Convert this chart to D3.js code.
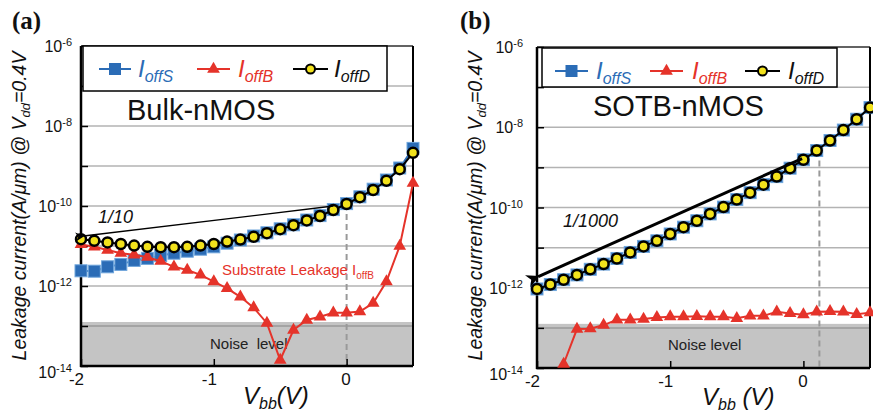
<html>
<head>
<title>leakage</title>
<script src="https://cdn.jsdelivr.net/npm/d3@7"></script>
<style>
  body { margin: 0; background: #fff; }
  svg text { font-family: "Liberation Sans", Arial, sans-serif; }
</style>
</head>
<body>
<svg id="chart" width="873" height="412"></svg>
<script>
// back bias sweep (V)
var vbb = [-2.0, -1.9, -1.8, -1.7, -1.6, -1.5, -1.4, -1.3, -1.2, -1.1, -1.0, -0.9, -0.8,
           -0.7, -0.6, -0.5, -0.4, -0.3, -0.2, -0.1, 0.0, 0.1, 0.2, 0.3, 0.4, 0.5];

// currents stored as log10(A/um)
var bulkS = [-11.62, -11.63, -11.52, -11.46, -11.36, -11.31, -11.24, -11.18, -11.13, -11.08, -11.02, -10.93, -10.85,
             -10.75, -10.67, -10.57, -10.47, -10.35, -10.24, -10.09, -9.94, -9.77, -9.58, -9.35, -9.05, -8.56];
var bulkB = [-10.96, -11.02, -11.10, -11.18, -11.22, -11.28, -11.38, -11.52, -11.60, -11.72, -11.89, -12.06, -12.27,
             -12.54, -12.93, -13.85, -13.10, -12.85, -12.77, -12.67, -12.67, -12.64, -12.43, -11.89, -11.00, -9.43];
var bulkD = [-10.83, -10.87, -10.91, -10.95, -10.99, -11.02, -11.03, -11.03, -11.02, -10.99, -10.95, -10.89, -10.84,
             -10.77, -10.68, -10.58, -10.48, -10.36, -10.25, -10.10, -9.95, -9.78, -9.60, -9.37, -9.08, -8.67];

var sotbS = [-12.03, -11.92, -11.80, -11.68, -11.54, -11.41, -11.27, -11.12, -10.97, -10.83, -10.66, -10.49, -10.33,
             -10.16, -9.99, -9.80, -9.63, -9.43, -9.23, -9.02, -8.81, -8.58, -8.33, -8.07, -7.80, -7.51];
var sotbB = [null, null, -13.90, -13.03, -13.02, -12.93, -12.80, -12.80, -12.78, -12.74, -12.72, -12.72, -12.71,
             -12.72, -12.72, -12.76, -12.70, -12.70, -12.60, -12.64, -12.67, -12.60, -12.59, -12.60, -12.66, -12.62];
var sotbD = [-12.03, -11.92, -11.80, -11.68, -11.54, -11.41, -11.27, -11.12, -10.97, -10.83, -10.66, -10.49, -10.33,
             -10.16, -9.99, -9.80, -9.63, -9.43, -9.23, -9.02, -8.81, -8.58, -8.33, -8.07, -7.80, -7.51];

var yTicks = [1e-14, 1e-13, 1e-12, 1e-11, 1e-10, 1e-9, 1e-8, 1e-7, 1e-6];
var yLabels = [[1e-14, "-14"], [1e-12, "-12"], [1e-10, "-10"], [1e-8, "-8"], [1e-6, "-6"]];
var xTicks = [-2, -1, 0];
var noiseTop = -12.9;

var colS = "#2b6cb6", colB = "#e5332a", colD = "#000";
var svg = d3.select("#chart");

function pts(vals) {
  return vbb.map(function(v, i) { return [v, vals[i]]; });
}

function drawPanel(p) {
  var g = svg.append("g");
  var x = d3.scaleLinear().domain([-2, 0.5]).range([p.left, p.right]);
  var y = d3.scaleLog().domain([1e-14, 1e-6]).range([p.bottom, p.top]);

  // noise band
  g.append("rect")
    .attr("x", p.left).attr("width", p.right - p.left)
    .attr("y", y(Math.pow(10, noiseTop)))
    .attr("height", p.bottom - y(Math.pow(10, noiseTop)))
    .attr("fill", "#c4c4c4");

  g.selectAll(".grid").data(yTicks).enter().append("line")
    .attr("x1", p.left).attr("x2", p.right)
    .attr("y1", function(d) { return y(d); }).attr("y2", function(d) { return y(d); })
    .attr("stroke", function(d) { return d < 1e-12 ? "#9a9a9a" : "#b3b3b3"; })
    .attr("stroke-width", 1.5);

  // dashed marker line
  g.append("line")
    .attr("x1", x(p.dash[0])).attr("x2", x(p.dash[0]))
    .attr("y1", y(Math.pow(10, p.dash[1]))).attr("y2", p.bottom)
    .attr("stroke", "#999").attr("stroke-width", 2).attr("stroke-dasharray", "6,4");

  // axes
  var ya = g.append("g").attr("transform", "translate(" + p.left + ",0)")
    .call(d3.axisLeft(y).tickValues(yTicks).tickSize(-7).tickFormat(""));
  ya.select(".domain").remove();
  ya.selectAll("line").attr("stroke", "#000").attr("stroke-width", 1.5);

  var xa = g.append("g").attr("transform", "translate(0," + p.bottom + ")")
    .call(d3.axisBottom(x).tickValues(xTicks).tickSize(-7).tickPadding(7)
      .tickFormat(function(d) { return String(d); }));
  xa.select(".domain").remove();
  xa.selectAll("line").attr("stroke", "#000").attr("stroke-width", 1.5);
  xa.selectAll("text")
    .attr("font-size", 17)
    .attr("fill", "#111")
    .attr("dx", function(d) { return d < 0 ? -5 : -1; });

  // y tick labels 10^n
  var yl = g.selectAll(".ylab").data(yLabels).enter().append("text")
    .attr("x", p.left - p.labOff)
    .attr("y", function(d) { return y(d[0]) + 6 + (d[0] === 1e-14 ? 6 : 0); })
    .attr("text-anchor", "end").attr("font-size", 16).attr("fill", "#111");
  yl.append("tspan").text("10");
  yl.append("tspan").attr("dy", -6).attr("font-size", 11).text(function(d) { return d[1]; });

  // frame
  g.append("line").attr("x1", p.left).attr("x2", p.right).attr("y1", p.top).attr("y2", p.top)
    .attr("stroke", "#000").attr("stroke-width", 1);
  g.append("line").attr("x1", p.right).attr("x2", p.right).attr("y1", p.top).attr("y2", p.bottom)
    .attr("stroke", "#000").attr("stroke-width", 2);
  g.append("line").attr("x1", p.left).attr("x2", p.left).attr("y1", p.top).attr("y2", p.bottom + 1)
    .attr("stroke", "#000").attr("stroke-width", 2.5);
  g.append("line").attr("x1", p.left - 1).attr("x2", p.right).attr("y1", p.bottom).attr("y2", p.bottom)
    .attr("stroke", "#000").attr("stroke-width", 2.5);

  // annotations
  g.append("text").attr("x", p.noise[0]).attr("y", p.noise[1])
    .attr("font-size", 15).attr("fill", "#222").attr("xml:space", "preserve")
    .text(p.noiseText);

  if (p.subLabel) {
    var st = g.append("text").attr("x", p.subLabel[0]).attr("y", p.subLabel[1])
      .attr("font-size", 15).attr("fill", colB);
    st.append("tspan").text("Substrate Leakage I");
    st.append("tspan").attr("dy", 4).attr("font-size", 10).text("offB");
  }

  g.append("text").attr("x", p.ratio[0]).attr("y", p.ratio[1])
    .attr("font-size", 18).attr("font-style", "italic").attr("fill", "#111").text(p.ratioText);

  // series
  var line = d3.line()
    .defined(function(d) { return d[1] !== null; })
    .x(function(d) { return x(d[0]); })
    .y(function(d) { return y(Math.pow(10, d[1])); });

  var sData = pts(p.s), bData = pts(p.b).filter(function(d) { return d[1] !== null; }), dData = pts(p.d);

  g.append("path").datum(sData).attr("d", line).attr("fill", "none").attr("stroke", colS).attr("stroke-width", 2);
  g.selectAll(".sq").data(sData).enter().append("rect")
    .attr("x", function(d) { return x(d[0]) - 6; })
    .attr("y", function(d) { return y(Math.pow(10, d[1])) - 6; })
    .attr("width", 12).attr("height", 12)
    .attr("fill", colS).attr("stroke", "#6fa6dc").attr("stroke-width", 1);

  g.append("path").datum(bData).attr("d", line).attr("fill", "none").attr("stroke", colB).attr("stroke-width", 2);
  g.selectAll(".tri").data(bData).enter().append("path")
    .attr("transform", function(d) { return "translate(" + x(d[0]) + "," + y(Math.pow(10, d[1])) + ")"; })
    .attr("d", d3.symbol(d3.symbolTriangle, 70))
    .attr("fill", colB);

  g.append("path").datum(dData).attr("d", line).attr("fill", "none").attr("stroke", colD).attr("stroke-width", 2);
  g.selectAll(".cir").data(dData).enter().append("circle")
    .attr("cx", function(d) { return x(d[0]); })
    .attr("cy", function(d) { return y(Math.pow(10, d[1])); })
    .attr("r", 5).attr("fill", "#f2e21c").attr("stroke", "#000").attr("stroke-width", 2.5);

  // slope arrow, on top of the markers
  var defsId = "arr" + p.id;
  svg.append("defs").append("marker").attr("id", defsId)
    .attr("viewBox", "0 0 10 10").attr("refX", 1).attr("refY", 5)
    .attr("markerWidth", p.arrowHead).attr("markerHeight", p.arrowHead)
    .attr("markerUnits", "userSpaceOnUse").attr("orient", "auto-start-reverse")
    .append("path").attr("d", "M0,5 L10,0 L7,5 L10,10 Z").attr("fill", "#000");
  g.append("line")
    .attr("x1", x(p.arrow[0][0])).attr("y1", y(Math.pow(10, p.arrow[0][1])))
    .attr("x2", x(p.arrow[1][0])).attr("y2", y(Math.pow(10, p.arrow[1][1])))
    .attr("stroke", "#000").attr("stroke-width", p.arrowW)
    .attr("marker-end", "url(#" + defsId + ")");

  // legend
  var L = p.legend;
  g.append("rect").attr("x", L.x).attr("y", L.y).attr("width", L.w).attr("height", L.h)
    .attr("fill", "#fff").attr("stroke", "#000").attr("stroke-width", 1.5);
  var items = [["offS", colS, "sq"], ["offB", colB, "tri"], ["offD", colD, "cir"]];
  items.forEach(function(it, i) {
    var pos = L.items[i], cx = (pos[0] + pos[1]) / 2;
    g.append("line").attr("x1", pos[0]).attr("x2", pos[1]).attr("y1", L.cy).attr("y2", L.cy)
      .attr("stroke", it[1]).attr("stroke-width", 2);
    if (it[2] === "sq") {
      g.append("rect").attr("x", cx - 6).attr("y", L.cy - 6).attr("width", 12).attr("height", 12).attr("fill", colS);
    } else if (it[2] === "tri") {
      g.append("path").attr("transform", "translate(" + cx + "," + L.cy + ")")
        .attr("d", d3.symbol(d3.symbolTriangle, 70)).attr("fill", colB);
    } else {
      g.append("circle").attr("cx", cx).attr("cy", L.cy).attr("r", 4.5)
        .attr("fill", "#f2e21c").attr("stroke", "#000").attr("stroke-width", 2);
    }
    var t = g.append("text").attr("x", pos[2]).attr("y", L.base)
      .attr("font-style", "italic").attr("fill", it[1] === colD ? "#111" : it[1]);
    t.append("tspan").attr("font-size", 24).text("I");
    t.append("tspan").attr("font-size", 16).attr("dy", 5).text(it[0]);
  });

  // titles
  g.append("text").attr("x", p.title[0]).attr("y", p.title[1])
    .attr("font-size", 29).attr("fill", "#111").text(p.titleText);
  g.append("text").attr("x", p.tag[0]).attr("y", p.tag[1])
    .style("font-family", "'Liberation Serif', 'Times New Roman', serif").attr("font-weight", "bold")
    .attr("font-size", 25).attr("fill", "#111").text(p.tagText);

  var xt = g.append("text").attr("x", p.xTitle[0]).attr("y", p.xTitle[1])
    .attr("font-style", "italic").attr("fill", "#111").attr("xml:space", "preserve");
  xt.append("tspan").attr("font-size", 24).text("V");
  xt.append("tspan").attr("font-size", 16).attr("dy", 5).text("bb");
  xt.append("tspan").attr("font-size", 24).attr("dy", -5).text(p.xGap + "(V)");

  var yt = g.append("text")
    .attr("transform", "translate(" + p.yTitle[0] + "," + p.yTitle[1] + ") rotate(-90)")
    .attr("text-anchor", "middle").attr("font-style", "italic").attr("font-size", 19.5).attr("fill", "#111");
  yt.append("tspan").text("Leakage current(A/\u03bcm) @ V");
  yt.append("tspan").attr("font-size", 13).attr("dy", 4).text("dd");
  yt.append("tspan").attr("dy", -4).text("=0.4V");
}

drawPanel({
  id: "a", left: 81, right: 413, top: 46, bottom: 366, labOff: 9,
  s: bulkS, b: bulkB, d: bulkD,
  dash: [0, -9.95],
  legend: { x: 83, y: 46, w: 304, h: 45, cy: 69, base: 77, items: [[99, 131, 138], [197, 230, 238], [293, 328, 334]] },
  title: [127, 120], titleText: "Bulk-nMOS",
  tag: [12, 29], tagText: "(a)",
  xTitle: [243, 404], xGap: "",
  yTitle: [26, 206],
  noise: [210, 349], noiseText: "Noise  level",
  subLabel: [222, 275],
  ratio: [98, 223], ratioText: "1/10",
  arrow: [[-0.1, -10.0], [-1.98, -10.75]], arrowW: 1.3, arrowHead: 9
});

drawPanel({
  id: "b", left: 537, right: 870, top: 47, bottom: 368, labOff: 14,
  s: sotbS, b: sotbB, d: sotbD,
  dash: [0.12, -8.83],
  legend: { x: 542, y: 48, w: 295, h: 39, cy: 71, base: 79, items: [[555, 588, 596], [650, 683, 692], [745, 780, 788]] },
  title: [593, 116], titleText: "SOTB-nMOS",
  tag: [460, 29], tagText: "(b)",
  xTitle: [702, 405], xGap: " ",
  yTitle: [482, 206],
  noise: [668, 350], noiseText: "Noise level",
  subLabel: null,
  ratio: [563, 227], ratioText: "1/1000",
  arrow: [[-0.01, -8.78], [-1.99, -11.72]], arrowW: 3, arrowHead: 13
});
</script>
</body>
</html>
